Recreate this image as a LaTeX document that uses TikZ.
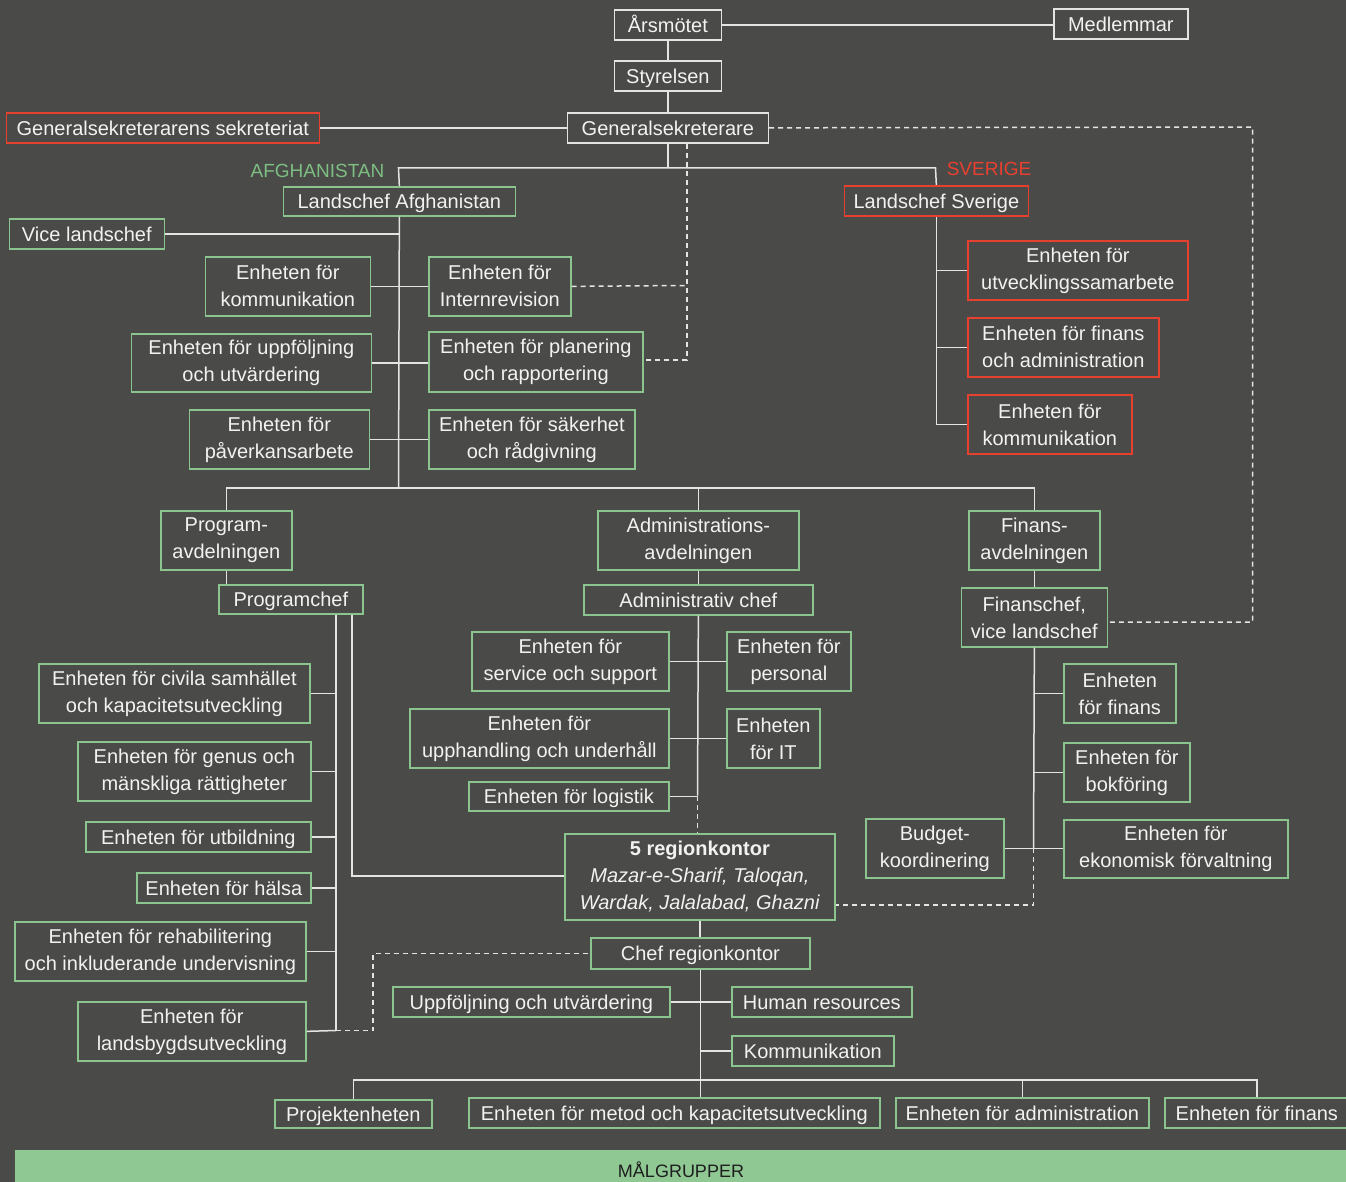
\documentclass[tikz,border=0pt]{standalone}
\usepackage{fontspec}
\setmainfont{Liberation Sans}
\definecolor{bg}{HTML}{4A4A48}
\definecolor{txt}{HTML}{F2F2F0}
\definecolor{wline}{HTML}{E4E4E2}
\definecolor{grn}{HTML}{8CC48F}
\definecolor{redc}{HTML}{E8402F}
\definecolor{band}{HTML}{8FC893}
\definecolor{grnlab}{HTML}{7DBE82}
\definecolor{bandtxt}{HTML}{1E1E1E}
\begin{document}
\begin{tikzpicture}[x=1pt,y=-1pt,
  basebox/.style={draw, line width=1.7pt, inner sep=0pt, align=center, text=txt,
    font=\fontsize{20}{27}\selectfont, anchor=north west},
  wbox/.style={basebox, draw=wline},
  gbox/.style={basebox, draw=grn},
  rbox/.style={basebox, draw=redc},
  one/.style={text height=14.5pt, text depth=0pt},
  ln/.style={draw=wline, line width=1.5pt},
  dsh/.style={ln, dash pattern=on 5pt off 4pt},
  lab/.style={font=\fontsize{19}{22}\selectfont, inner sep=0pt, anchor=base}
]
\useasboundingbox (0,0) rectangle (1346,1182);
\fill[bg] (0,0) rectangle (1346,1182);
\fill[band] (15,1150) rectangle (1346,1182);
\node[lab, text=bandtxt, font=\fontsize{18}{20}\selectfont] (malg) at (681,1177) {MÅLGRUPPER};

% top
\node[wbox,one,minimum width=107pt,minimum height=30pt] (ars) at (613.5,9) {Årsmötet};
\node[wbox,one,minimum width=134pt,minimum height=30pt] (medl) at (1053,8) {Medlemmar};
\node[wbox,one,minimum width=107pt,minimum height=30pt] (styr) at (613.5,60) {Styrelsen};
\node[wbox,one,minimum width=201pt,minimum height=30pt] (gen) at (566.5,112) {Generalsekreterare};
\node[rbox,one,minimum width=313pt,minimum height=30pt] (sekr) at (5.5,112) {Generalsekreterarens sekreteriat};

\node[lab, text=grnlab] (afg) at (317.5,178) {AFGHANISTAN};
\node[lab, text=redc] (sve) at (989,176) {SVERIGE};

\node[gbox,one,minimum width=232pt,minimum height=29pt] (landA) at (282.5,186) {Landschef Afghanistan};
\node[rbox,one,minimum width=184pt,minimum height=30pt] (landS) at (843.5,185) {Landschef Sverige};
\node[gbox,one,minimum width=155pt,minimum height=30pt] (vice) at (8.5,218) {Vice landschef};

\node[gbox,minimum width=165pt,minimum height=59pt] (komA) at (204.5,256) {Enheten för\\kommunikation};
\node[gbox,minimum width=142pt,minimum height=59pt] (intern) at (428,256) {Enheten för\\Internrevision};
\node[gbox,minimum width=240pt,minimum height=58pt] (uppf) at (130.5,333) {Enheten för uppföljning\\och utvärdering};
\node[gbox,minimum width=214pt,minimum height=60pt] (plan) at (428,331) {Enheten för planering\\och rapportering};
\node[gbox,minimum width=180pt,minimum height=59pt] (pav) at (188.5,409) {Enheten för\\påverkansarbete};
\node[gbox,minimum width=206pt,minimum height=59pt] (sak) at (428,409) {Enheten för säkerhet\\och rådgivning};

\node[rbox,minimum width=220pt,minimum height=59pt] (utv) at (967,240) {Enheten för\\utvecklingssamarbete};
\node[rbox,minimum width=191pt,minimum height=59pt] (finadm) at (967,317) {Enheten för finans\\och administration};
\node[rbox,minimum width=164pt,minimum height=59pt] (komS) at (967,394) {Enheten för\\kommunikation};

% departments
\node[gbox,minimum width=131pt,minimum height=59pt] (progAvd) at (160,510) {Program-\\avdelningen};
\node[gbox,one,minimum width=144pt,minimum height=29pt] (progChef) at (218,584) {Programchef};
\node[gbox,minimum width=201pt,minimum height=59pt] (admAvd) at (597,510) {Administrations-\\avdelningen};
\node[gbox,one,minimum width=229pt,minimum height=30pt] (admChef) at (583,584) {Administrativ chef};
\node[gbox,minimum width=131pt,minimum height=59pt] (finAvd) at (968,510) {Finans-\\avdelningen};
\node[gbox,minimum width=146pt,minimum height=59pt] (finChef) at (960.5,587) {Finanschef,\\vice landschef};

% admin units
\node[gbox,minimum width=197pt,minimum height=59pt] (serv) at (471,631) {Enheten för\\service och support};
\node[gbox,minimum width=124pt,minimum height=59pt] (pers) at (726,631) {Enheten för\\personal};
\node[gbox,minimum width=259pt,minimum height=59pt] (upph) at (409,708) {Enheten för\\upphandling och underhåll};
\node[gbox,minimum width=93pt,minimum height=59pt] (it) at (726,708) {Enheten\\för IT};
\node[gbox,one,minimum width=200pt,minimum height=29pt] (logi) at (468,781) {Enheten för logistik};

% program units
\node[gbox,minimum width=271pt,minimum height=59pt] (civ) at (38,663) {Enheten för civila samhället\\och kapacitetsutveckling};
\node[gbox,minimum width=233pt,minimum height=59pt] (genus) at (77,741) {Enheten för genus och\\mänskliga rättigheter};
\node[gbox,one,minimum width=225pt,minimum height=30pt] (utb) at (85,821) {Enheten för utbildning};
\node[gbox,one,minimum width=174pt,minimum height=30pt] (hal) at (136,872) {Enheten för hälsa};
\node[gbox,minimum width=291pt,minimum height=59pt] (reh) at (14,921) {Enheten för rehabilitering\\och inkluderande undervisning};
\node[gbox,minimum width=228pt,minimum height=59pt] (lan) at (77,1001) {Enheten för\\landsbygdsutveckling};

% finance units
\node[gbox,minimum width=112pt,minimum height=59pt] (finE) at (1063,663) {Enheten\\för finans};
\node[gbox,minimum width=126pt,minimum height=59pt] (bokf) at (1063,742) {Enheten för\\bokföring};
\node[gbox,minimum width=138pt,minimum height=59pt] (budg) at (865,818) {Budget-\\koordinering};
\node[gbox,minimum width=224pt,minimum height=58pt] (ekon) at (1063,819) {Enheten för\\ekonomisk förvaltning};

% regional
\node[gbox,minimum width=270pt,minimum height=86pt] (region) at (564,833) {\textbf{5 regionkontor}\\\textit{Mazar-e-Sharif, Taloqan,}\\\textit{Wardak, Jalalabad, Ghazni}};
\node[gbox,one,minimum width=219pt,minimum height=31pt] (chefReg) at (590,937) {Chef regionkontor};
\node[gbox,one,minimum width=277pt,minimum height=30pt] (upp2) at (392,986) {Uppföljning och utvärdering};
\node[gbox,one,minimum width=180pt,minimum height=30pt] (hr) at (731,986) {Human resources};
\node[gbox,one,minimum width=162pt,minimum height=30pt] (komm) at (731,1035) {Kommunikation};
\node[gbox,one,minimum width=157pt,minimum height=28pt] (proj) at (274,1099) {Projektenheten};
\node[gbox,one,minimum width=411pt,minimum height=30pt] (metod) at (468,1097) {Enheten för metod och kapacitetsutveckling};
\node[gbox,one,minimum width=253pt,minimum height=30pt] (admE) at (895,1097) {Enheten för administration};
\node[gbox,one,minimum width=184pt,minimum height=30pt] (finE2) at (1164,1097) {Enheten för finans};

% ---- connectors ----
\draw[ln] (ars.east) -- (ars.east -| medl.west);
\draw[ln] (ars.south) -- (styr.north);
\draw[ln] (styr.south) -- (gen.north);
\draw[ln] (sekr.east) -- (gen.west);
\coordinate (hA) at (398.5,168);
\coordinate (hS) at (935.5,168);
\draw[ln] (gen.south) -- (gen.south |- hA);
\draw[ln] (landA.north) -- (hA) -- (hS) -- (landS.north);
\coordinate (tA) at (398.5,488);
\draw[ln] (landA.south) -- (tA);
\draw[ln] (vice.east) -- (vice.east -| tA);
\draw[ln] (komA.east) -- (komA.east -| intern.west);
\draw[ln] (uppf.east) -- (uppf.east -| plan.west);
\draw[ln] (pav.east) -- (pav.east -| sak.west);
\coordinate (dI) at (687,285.5);
\coordinate (dP) at (687,360);
\draw[dsh] (gen.south -| dI) -- (dP) -- (dP -| plan.east);
\draw[dsh] (intern.east) -- (dI);
\coordinate (dG) at (1252.5,127);
\coordinate (dF) at (1252.5,622);
\draw[dsh] (gen.east) -- (dG) -- (dF) -- (dF -| finChef.east);
% Sverige
\draw[ln] (landS.south) -- (landS.south |- komS.west);
\draw[ln] (utv.west) -- (utv.west -| landS.south);
\draw[ln] (finadm.west) -- (finadm.west -| landS.south);
\draw[ln] (komS.west) -- (komS.west -| landS.south);
% departments
\draw[ln] (progAvd.north) -- (progAvd.north |- tA) -- (finAvd.north |- tA) -- (finAvd.north);
\draw[ln] (tA -| admAvd.north) -- (admAvd.north);
\draw[ln] (progAvd.south) -- (progAvd.south |- progChef.north);
\draw[ln] (admAvd.south) -- (admAvd.south |- admChef.north);
\draw[ln] (finAvd.south) -- (finAvd.south |- finChef.north);
% program
\coordinate (pL) at (336,1030.5);
\coordinate (pR) at (352,876);
\draw[ln] (progChef.south -| pL) -- (pL);
\draw[ln] (progChef.south -| pR) -- (pR) -- (pR -| region.west);
\draw[ln] (civ.east) -- (civ.east -| pL);
\draw[ln] (genus.east) -- (genus.east -| pL);
\draw[ln] (utb.east) -- (utb.east -| pL);
\draw[ln] (hal.east) -- (hal.east -| pL);
\draw[ln] (reh.east) -- (reh.east -| pL);
\draw[ln] (lan.east) -- (pL);
\coordinate (dQ) at (373,1030.5);
\draw[dsh] (pL) -- (dQ) -- (dQ |- chefReg.west) -- (chefReg.west);
% admin
\coordinate (aT) at (697.5,795.5);
\draw[ln] (admChef.south) -- (aT);
\draw[dsh] (aT) -- (aT |- region.north);
\draw[ln] (serv.east) -- (serv.east -| pers.west);
\draw[ln] (upph.east) -- (upph.east -| it.west);
\draw[ln] (logi.east) -- (logi.east -| aT);
% finance
\coordinate (fT) at (1033.5,848);
\coordinate (fB) at (1033.5,905);
\draw[ln] (finChef.south) -- (fT);
\draw[dsh] (fT) -- (fB) -- (fB -| region.east);
\draw[ln] (finE.west) -- (finE.west -| fT);
\draw[ln] (bokf.west) -- (bokf.west -| fT);
\draw[ln] (budg.east) -- (budg.east -| ekon.west);
% regional
\draw[ln] (region.south) -- (region.south |- chefReg.north);
\draw[ln] (chefReg.south) -- (chefReg.south |- metod.north);
\draw[ln] (upp2.east) -- (upp2.east -| hr.west);
\draw[ln] (komm.west) -- (komm.west -| chefReg.south);
\coordinate (rB) at (700,1080);
\draw[ln] (proj.north) -- (proj.north |- rB) -- (finE2.north |- rB) -- (finE2.north);
\draw[ln] (admE.north |- rB) -- (admE.north);
\end{tikzpicture}
\end{document}
